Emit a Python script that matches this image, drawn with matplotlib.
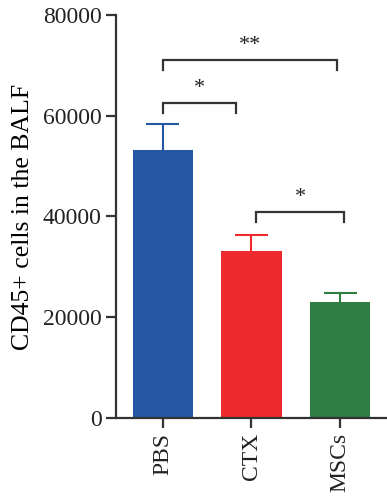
import matplotlib
matplotlib.use("Agg")
import matplotlib.pyplot as plt

groups = ["PBS", "CTX", "MSCs"]
means = [53200, 33100, 23000]
errs = [5200, 3200, 1800]
colors = ["#2457A4", "#EE2A2E", "#2E7D43"]
yticks = [0, 20000, 40000, 60000, 80000]

# significance brackets: (x1, x2, y_top, label)
brackets = [(0, 0.82, 62500, "*"), (0, 1.97, 71000, "**"), (1.05, 2.05, 40900, "*")]
drop = 2000
cap_half = 0.186

plt.rcParams['font.family'] = ['Liberation Serif', 'DejaVu Serif']
fig = plt.figure(figsize=(3.87, 5.0), dpi=100)
ax = fig.add_axes([0.2997, 0.164, 0.7003, 0.806])

x = list(range(len(groups)))
for xi, m, e, c in zip(x, means, errs, colors):
    ax.bar(xi, m, width=0.68, color=c, zorder=2)
    ax.vlines(xi, m, m + e, color=c, lw=1.5, zorder=1)
    ax.hlines(m + e, xi - cap_half, xi + cap_half, color=c, lw=1.5, zorder=1)

for x1, x2, yt, lab in brackets:
    ax.plot([x1, x1, x2, x2], [yt - drop, yt, yt, yt - drop], color="#333333", lw=1.6,
            solid_joinstyle='miter', clip_on=False)
    ax.text((x1 + x2) / 2, yt + 1000, lab, ha='center', va='bottom', fontsize=16, color="#222222")

ax.set_xlim(-0.53, 2.53)
ax.set_ylim(0, 80000)
ax.set_yticks(yticks)
ax.set_yticklabels([str(v) for v in yticks], fontsize=17)
ax.set_xticks(x)
ax.set_xticklabels(groups, rotation=90, fontsize=17)
ax.set_ylabel("CD45+ cells in the BALF", fontsize=18.5, labelpad=6)
for s in ["top", "right"]:
    ax.spines[s].set_visible(False)
for s in ["left", "bottom"]:
    ax.spines[s].set_color("#333333")
    ax.spines[s].set_linewidth(1.6)
ax.tick_params(axis='both', length=7, width=1.6, color="#333333", labelcolor="#222222")

fig.savefig("out.png", dpi=100)
